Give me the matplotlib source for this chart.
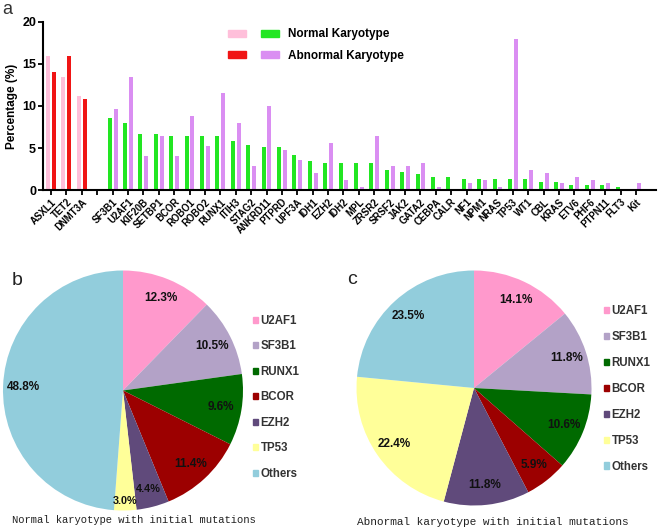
import numpy as np
import matplotlib
matplotlib.use("Agg")
import matplotlib.pyplot as plt
from matplotlib.legend_handler import HandlerTuple
from matplotlib.patches import Patch

plt.rcParams['font.family'] = ['Liberation Sans', 'DejaVu Sans']

# ---- panel a data ----
genes = ['ASXL1', 'TET2', 'DNMT3A',
         'SF3B1', 'U2AF1', 'KIF20B', 'SETBP1', 'BCOR', 'ROBO1', 'ROBO2', 'RUNX1',
         'ITIH3', 'STAG2', 'ANKRD11', 'PTPRD', 'UPF3A', 'IDH1', 'EZH2', 'IDH2',
         'MPL', 'ZRSR2', 'SRSF2', 'JAK2', 'GATA2', 'CEBPA', 'CALR', 'NF1', 'NPM1',
         'NRAS', 'TP53', 'WT1', 'CBL', 'KRAS', 'ETV6', 'PHF6', 'PTPN11', 'FLT3', 'Kit']
normal = [16.0, 13.4, 11.2,
          8.6, 8.0, 6.7, 6.7, 6.4, 6.4, 6.4, 6.4,
          5.8, 5.4, 5.1, 5.1, 4.2, 3.5, 3.2, 3.2,
          3.2, 3.2, 2.4, 2.2, 1.9, 1.6, 1.6, 1.3, 1.3,
          1.3, 1.3, 1.3, 1.0, 1.0, 0.65, 0.65, 0.65, 0.3, 0.0]
abnormal = [14.0, 16.0, 10.8,
            9.6, 13.5, 4.0, 6.4, 4.0, 8.8, 5.2, 11.6,
            8.0, 2.8, 10.0, 4.8, 3.6, 2.0, 5.6, 1.2,
            0.4, 6.4, 2.8, 2.8, 3.2, 0.4, 0.0, 0.8, 1.2,
            0.4, 18.0, 2.4, 2.0, 0.8, 1.6, 1.2, 0.8, 0.0, 0.8]
n_initial = 3  # ASXL1/TET2/DNMT3A drawn in pink/red

# ---- panels b, c data ----
pie_labels = ['U2AF1', 'SF3B1', 'RUNX1', 'BCOR', 'EZH2', 'TP53', 'Others']
normal_pie = [12.3, 10.5, 9.6, 11.4, 4.4, 3.0, 48.8]
abnormal_pie = [14.1, 11.8, 10.6, 5.9, 11.8, 22.4, 23.5]

PINK, RED = '#FFBFDA', '#F01515'
GREEN, PURPLE = '#22E622', '#DA8EF2'
pie_colors = ['#FF99CC', '#B3A2C7', '#006A00', '#9C0000', '#604A7B', '#FFFF99', '#92CDDC']

W, H = 658, 527
fig = plt.figure(figsize=(W / 100, H / 100), dpi=100)

def px_axes(x0, y0, x1, y1):
    return fig.add_axes([x0 / W, 1 - y1 / H, (x1 - x0) / W, (y1 - y0) / H])

# ---------------- panel a ----------------
ax = px_axes(43, 22, 656, 190)
pos = np.r_[np.arange(n_initial), np.arange(n_initial + 1, n_initial + 1 + len(genes) - n_initial)]
c_norm = [PINK] * n_initial + [GREEN] * (len(genes) - n_initial)
c_abn = [RED] * n_initial + [PURPLE] * (len(genes) - n_initial)
bw = 0.26
ax.bar(pos - 0.19, normal, bw, color=c_norm, linewidth=0)
ax.bar(pos + 0.19, abnormal, bw, color=c_abn, linewidth=0)

ticks = np.arange(len(genes) + 1)
ticklabels = genes[:n_initial] + [''] + genes[n_initial:]
ax.set_xticks(ticks)
ax.set_xticklabels(ticklabels, rotation=45, ha='right', rotation_mode='anchor',
                   fontsize=6.9, fontweight='bold')
ax.set_xlim(-0.52, ticks[-1] + 1.3)
ax.set_ylim(0, 20)
ax.set_yticks([0, 5, 10, 15, 20])
for t in ax.get_yticklabels():
    t.set_fontweight('bold')
    t.set_fontsize(9)
ax.set_ylabel('Percentage (%)', fontsize=8.5, fontweight='bold', labelpad=3)
for s in ['top', 'right']:
    ax.spines[s].set_visible(False)
for s in ['left', 'bottom']:
    ax.spines[s].set_linewidth(1.5)
ax.tick_params(direction='out', length=3.5, width=1.3, pad=1.5)

h_norm = (Patch(color=PINK), Patch(color=GREEN))
h_abn = (Patch(color=RED), Patch(color=PURPLE))
leg = ax.legend([h_norm, h_abn], ['Normal Karyotype', 'Abnormal Karyotype'],
                handler_map={tuple: HandlerTuple(ndivide=None, pad=1.2)},
                loc='upper left', bbox_to_anchor=(0.302, 0.962), frameon=False,
                prop={'weight': 'bold', 'size': 8.5}, handlelength=4.3,
                handleheight=0.5, labelspacing=0.8, handletextpad=0.8,
                borderpad=0, borderaxespad=0)
fig.text(2 / W, 1 - 1 / H, 'a', fontsize=13, color='#333333', va='top', ha='left')

# ---------------- panels b, c ----------------
def draw_pie(cx, cy, r, vals, letter, lx, ly, leg_x, leg_y, leg_sp,
             caption, cap_x, cap_y, cap_fs):
    pax = px_axes(cx - r, cy - r, cx + r, cy + r)
    wedges, _, pcts = pax.pie(vals, colors=pie_colors, startangle=90, counterclock=False,
                              autopct=lambda p: f'{p:.1f}%', pctdistance=0.83,
                              wedgeprops={'linewidth': 0},
                              textprops={'fontsize': 8.5, 'fontweight': 'bold',
                                         'color': '#111111'})
    # small neighbouring slices: nudge labels apart radially
    for w, t, v in zip(wedges, pcts, vals):
        if v < 5:
            ang = np.deg2rad((w.theta1 + w.theta2) / 2)
            rr = 0.92 if v < 4 else 0.85
            t.set_position((rr * np.cos(ang), rr * np.sin(ang)))
            t.set_fontsize(7.8)
    pax.set_xlim(-1, 1)
    pax.set_ylim(-1, 1)
    pax.set_aspect('equal')
    pax.axis('off')
    handles = [Patch(color=c) for c in pie_colors]
    fig.legend(handles, pie_labels, loc='upper left',
               bbox_to_anchor=(leg_x / W, 1 - leg_y / H), frameon=False,
               prop={'weight': 'bold', 'size': 8.3}, labelcolor='#333333',
               handlelength=0.45, handleheight=0.45, handletextpad=0.2,
               labelspacing=leg_sp, borderpad=0, borderaxespad=0)
    fig.text(lx / W, 1 - ly / H, letter, fontsize=14, color='#222222',
             ha='left', va='top')
    fig.text(cap_x / W, 1 - cap_y / H, caption, fontsize=cap_fs,
             family='Liberation Mono', color='#222222', ha='center', va='center')

draw_pie(123, 390.5, 120, normal_pie, 'b', 12, 272, 253, 315, 1.17,
         'Normal karyotype with initial mutations', 133.5, 520, 7.6)
draw_pie(474, 388, 117.5, abnormal_pie, 'c', 347, 271, 604, 305, 1.21,
         'Abnormal karyotype with initial mutations', 492.5, 522, 8.0)

fig.savefig('out.png', dpi=100)
